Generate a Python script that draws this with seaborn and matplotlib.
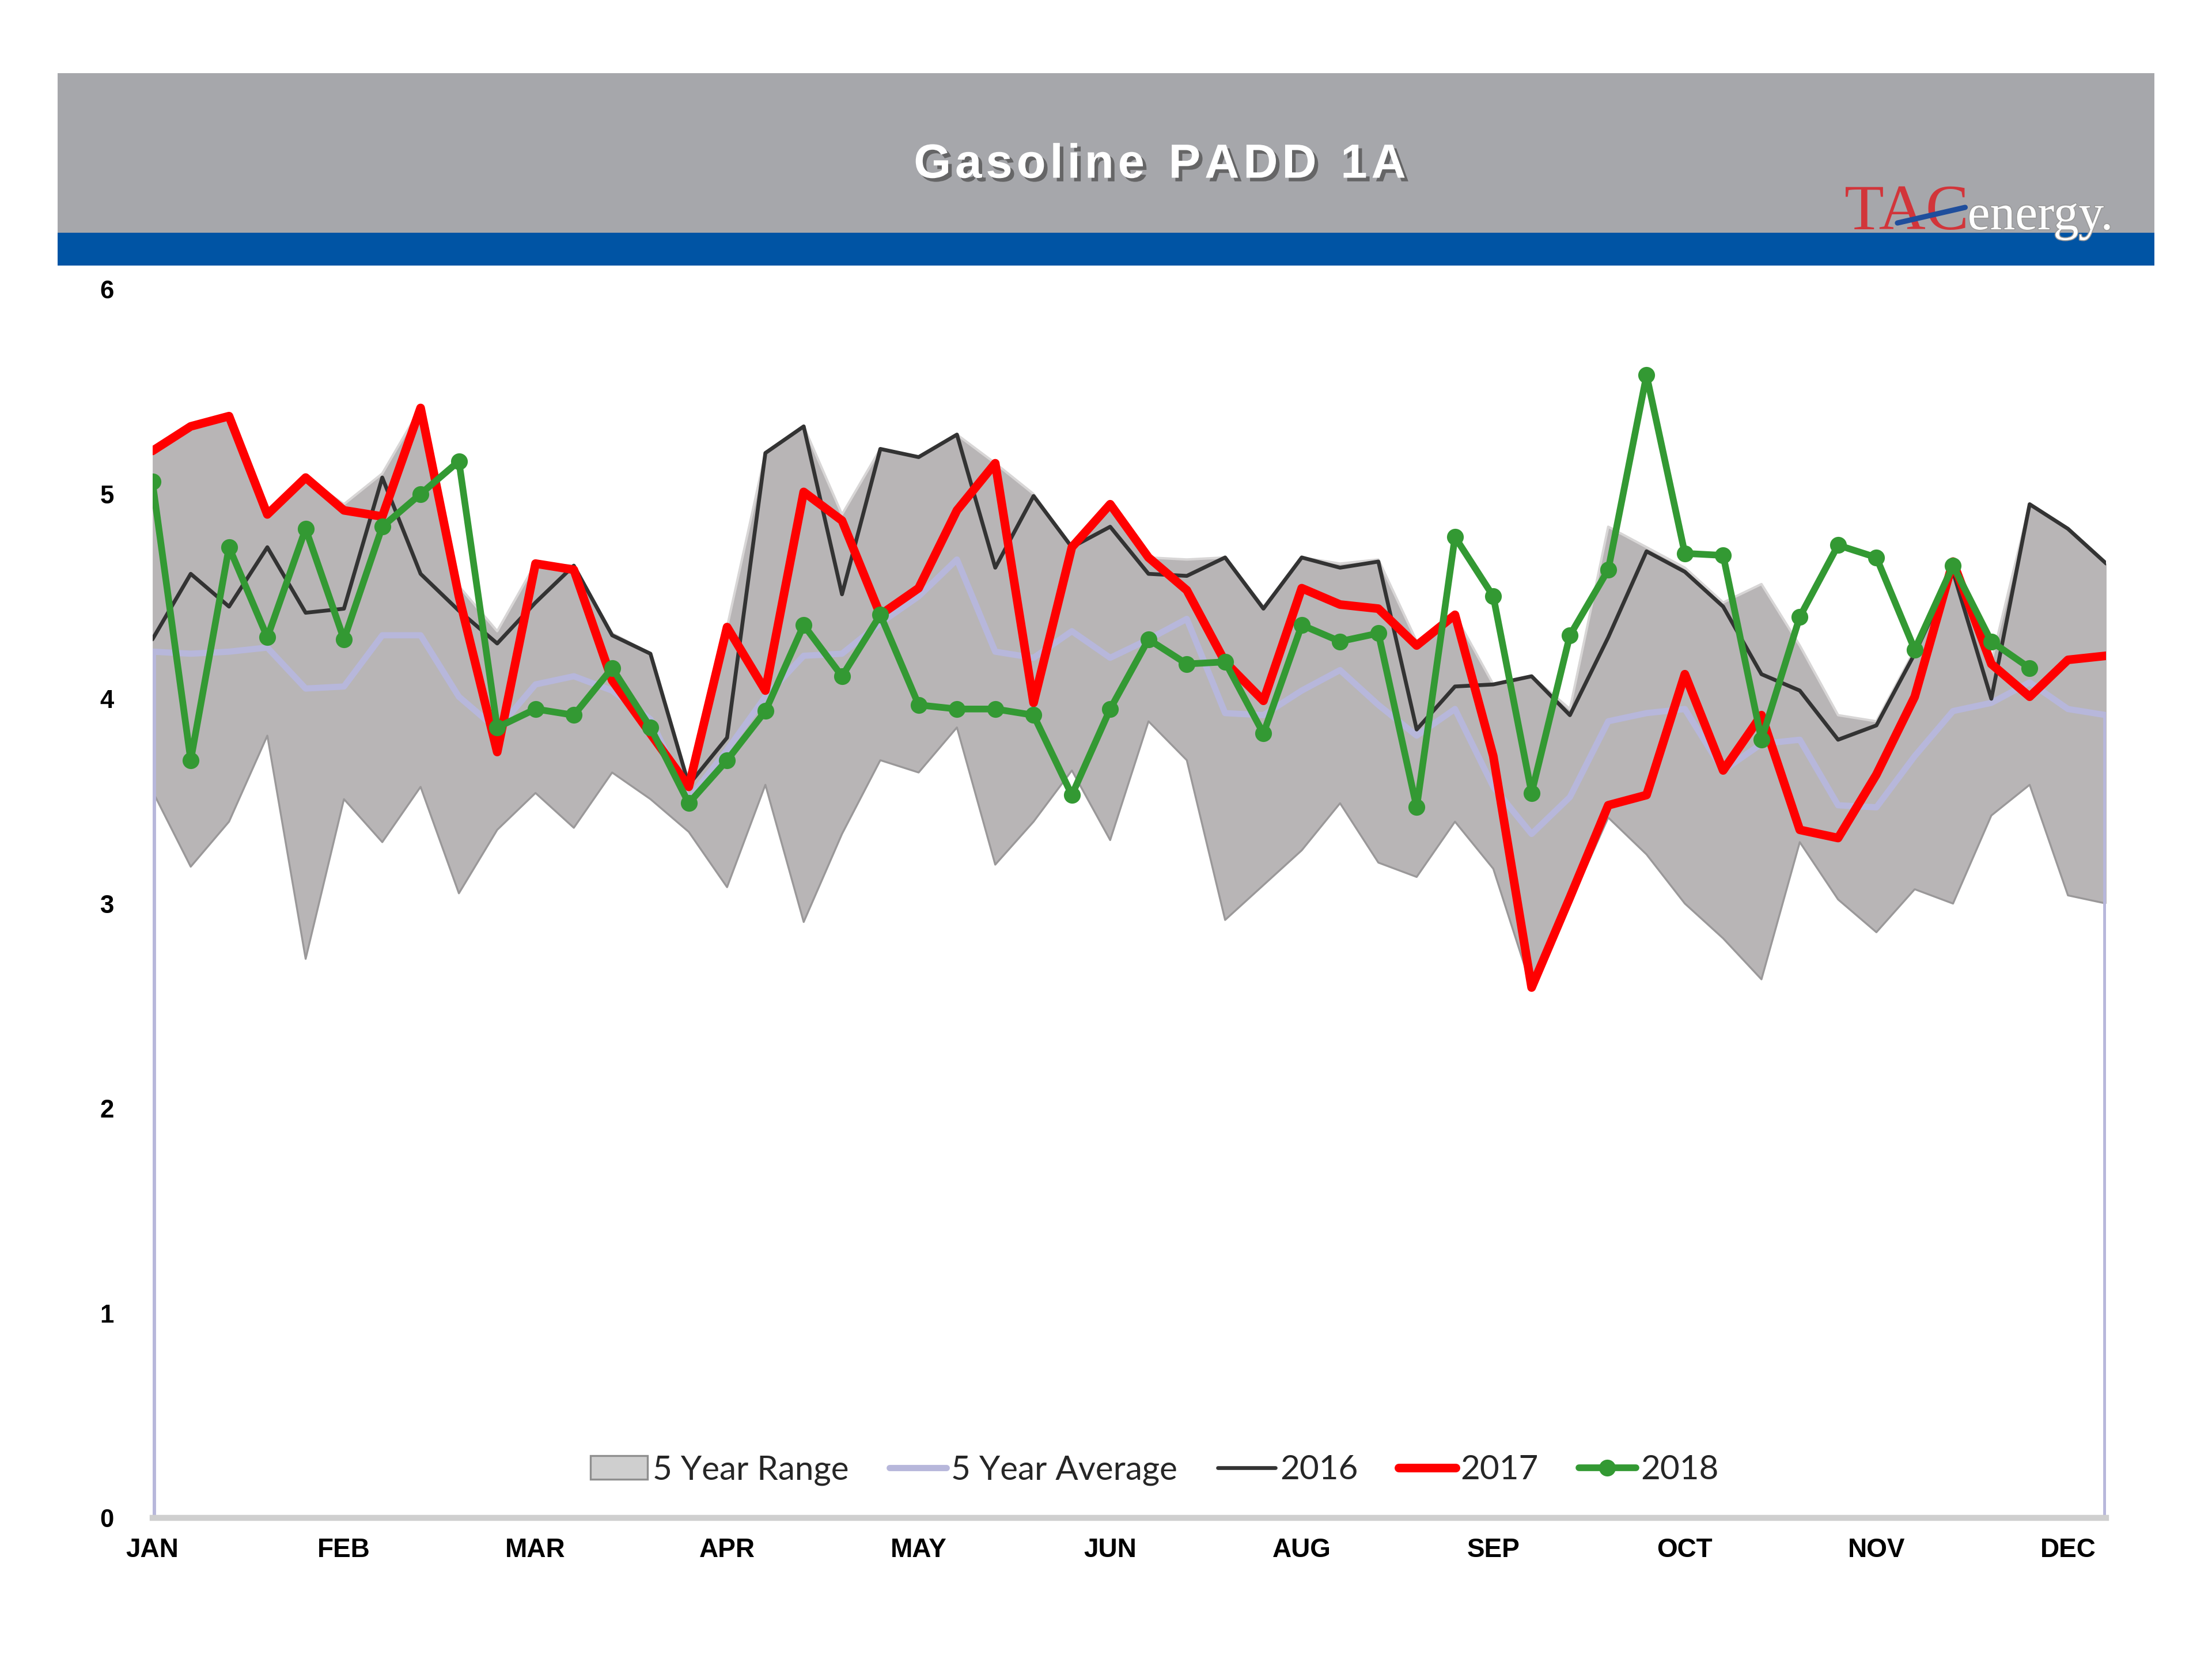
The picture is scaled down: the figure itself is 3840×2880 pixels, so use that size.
import numpy as np
import pandas as pd
import matplotlib
matplotlib.use("Agg")
import matplotlib.pyplot as plt
import matplotlib.patheffects as pe
from matplotlib.patches import Rectangle, Patch
from matplotlib.lines import Line2D
import seaborn as sns

# ---------------- data ----------------
weeks = list(range(52))
month_ticks = [0, 5, 10, 15, 20, 25, 30, 35, 40, 45, 50]
month_labels = ["JAN", "FEB", "MAR", "APR", "MAY", "JUN", "AUG", "SEP", "OCT", "NOV", "DEC"]

range_low = [3.55, 3.18, 3.40, 3.82, 2.73, 3.51, 3.30, 3.57, 3.05, 3.36,
             3.54, 3.37, 3.64, 3.51, 3.35, 3.08, 3.58, 2.91, 3.34, 3.70,
             3.64, 3.86, 3.19, 3.40, 3.65, 3.31, 3.89, 3.70, 2.92, 3.09,
             3.26, 3.49, 3.20, 3.13, 3.40, 3.17, 2.59, 3.00, 3.42, 3.24,
             3.00, 2.83, 2.63, 3.30, 3.02, 2.86, 3.07, 3.00, 3.43, 3.58,
             3.04, 3.00]
range_high = [5.21, 5.33, 5.38, 4.90, 5.08, 4.95, 5.10, 5.42, 4.55, 4.33,
              4.66, 4.65, 4.32, 4.22, 3.58, 4.35, 5.20, 5.33, 4.90, 5.22,
              5.18, 5.29, 5.15, 5.00, 4.74, 4.95, 4.69, 4.68, 4.69, 4.45,
              4.69, 4.66, 4.68, 4.28, 4.41, 4.07, 4.11, 3.95, 4.84, 4.74,
              4.64, 4.47, 4.56, 4.26, 3.92, 3.89, 4.24, 4.68, 4.18, 4.95,
              4.83, 4.66]
avg_5yr = [4.23, 4.22, 4.23, 4.25, 4.05, 4.06, 4.31, 4.31, 4.01, 3.85,
           4.07, 4.11, 4.04, 3.90, 3.51, 3.75, 4.01, 4.21, 4.22, 4.37,
           4.50, 4.68, 4.23, 4.20, 4.33, 4.20, 4.29, 4.39, 3.93, 3.92,
           4.04, 4.14, 3.97, 3.82, 3.95, 3.57, 3.34, 3.52, 3.89, 3.93,
           3.95, 3.65, 3.78, 3.80, 3.48, 3.47, 3.72, 3.94, 3.98, 4.08,
           3.95, 3.92]
y2016 = [4.29, 4.61, 4.45, 4.74, 4.42, 4.44, 5.08, 4.61, 4.43, 4.27,
         4.47, 4.65, 4.31, 4.22, 3.58, 3.81, 5.20, 5.33, 4.51, 5.22,
         5.18, 5.29, 4.64, 4.99, 4.74, 4.84, 4.61, 4.60, 4.69, 4.44,
         4.69, 4.64, 4.67, 3.85, 4.06, 4.07, 4.11, 3.92, 4.30, 4.72,
         4.62, 4.45, 4.12, 4.04, 3.80, 3.87, 4.22, 4.62, 4.00, 4.95,
         4.83, 4.66]
y2017 = [5.21, 5.33, 5.38, 4.90, 5.08, 4.92, 4.89, 5.42, 4.50, 3.74,
         4.66, 4.63, 4.09, 3.83, 3.57, 4.35, 4.04, 5.01, 4.87, 4.41,
         4.54, 4.92, 5.15, 3.98, 4.74, 4.95, 4.69, 4.53, 4.18, 3.99,
         4.54, 4.46, 4.44, 4.26, 4.41, 3.72, 2.59, 3.03, 3.48, 3.53,
         4.12, 3.65, 3.92, 3.36, 3.32, 3.63, 4.01, 4.67, 4.17, 4.01,
         4.19, 4.21]
weeks_2018 = list(range(50))
y2018 = [5.06, 3.70, 4.74, 4.30, 4.83, 4.29, 4.84, 5.00, 5.16, 3.86,
         3.95, 3.92, 4.15, 3.86, 3.49, 3.70, 3.94, 4.36, 4.11, 4.41,
         3.97, 3.95, 3.95, 3.92, 3.53, 3.95, 4.29, 4.17, 4.18, 3.83,
         4.36, 4.28, 4.32, 3.47, 4.79, 4.50, 3.54, 4.31, 4.63, 5.58,
         4.71, 4.70, 3.80, 4.40, 4.75, 4.69, 4.24, 4.65, 4.28, 4.15]

title = "Gasoline PADD 1A"
legend_labels = ["5 Year Range", "5 Year Average", "2016", "2017", "2018"]

# ---------------- style ----------------
sns.set_theme(style="white")
plt.rcParams["font.family"] = ["Liberation Sans", "DejaVu Sans"]

C_RANGE = "#b8b5b6"
C_RANGE_EDGE = "#9a9899"
C_AVG = "#b7b7db"
C_2016 = "#333333"
C_2017 = "#ff0000"
C_2018 = "#339933"

fig = plt.figure(figsize=(12.8, 9.6), dpi=300)
fig.patch.set_facecolor("white")

# header bands
fig.patches.append(Rectangle((0.0261, 0.8597), 0.9478, 0.0961, transform=fig.transFigure,
                             facecolor="#a6a7ab", edgecolor="none", zorder=0))
fig.patches.append(Rectangle((0.0261, 0.8401), 0.9478, 0.0196, transform=fig.transFigure,
                             facecolor="#0054a4", edgecolor="none", zorder=0))
spaced_title = "\u200a".join(list(title)).replace("\u200a \u200a", "\u2002")
fig.text(0.5245, 0.9005, spaced_title, ha="center", va="center", color="white",
         fontsize=20, fontweight="bold", family=["Liberation Sans", "DejaVu Sans"],
         path_effects=[pe.withSimplePatchShadow(offset=(1.5, -1.5), shadow_rgbFace="#555555", alpha=0.8)])
# logo
fig.text(0.8902, 0.8618, "TAC", ha="right", va="baseline", color="#d2353a",
         fontsize=27, family=["Liberation Serif", "DejaVu Serif"], zorder=3)
fig.text(0.8895, 0.8618, "energy.", ha="left", va="baseline", color="white",
         fontsize=21, family=["Liberation Serif", "DejaVu Serif"], zorder=3,
         path_effects=[pe.withStroke(linewidth=0.8, foreground="#9a9a9a")])
fig.add_artist(Line2D([0.8578, 0.8884], [0.8656, 0.8750], transform=fig.transFigure,
                      color="#1f4e9c", lw=2.2, zorder=4))

ax = fig.add_axes([0.0689, 0.0850, 0.8833, 0.7407])
ax.set_facecolor("white")

# range area
ax.fill_between(weeks, range_low, range_high, color=C_RANGE, linewidth=0, zorder=1)
ax.plot(weeks, range_low, color=C_RANGE_EDGE, lw=0.8, zorder=1.1)
ax.plot(weeks, range_high, color="#d8d6d6", lw=1.0, zorder=1.1)

# average with edge drops
sns.lineplot(x=weeks, y=avg_5yr, ax=ax, color=C_AVG, linewidth=2.6, zorder=2)
ax.vlines([weeks[0], weeks[-1]], 0, [avg_5yr[0], avg_5yr[-1]], color=C_AVG, lw=2.6, zorder=2)

sns.lineplot(x=weeks, y=y2016, ax=ax, color=C_2016, linewidth=1.6, zorder=3)
sns.lineplot(x=weeks, y=y2017, ax=ax, color=C_2017, linewidth=3.6, zorder=4)
sns.lineplot(x=weeks_2018, y=y2018, ax=ax, color=C_2018, linewidth=2.8, zorder=5,
             marker="o", markersize=7, markeredgewidth=0)

ax.set_xlim(0, 51)
ax.set_ylim(0, 6)
ax.set_yticks(range(0, 7))
ax.set_yticklabels([str(v) for v in range(0, 7)], fontweight="bold", fontsize=10.5)
ax.set_xticks(month_ticks)
ax.set_xticklabels(month_labels, fontweight="bold", fontsize=11)
ax.tick_params(axis="y", length=0, pad=16, colors="black")
ax.tick_params(axis="x", length=0, pad=8, colors="black")
ax.set_xlabel("")
ax.set_ylabel("")
for s in ["top", "right", "left"]:
    ax.spines[s].set_visible(False)
ax.spines["bottom"].set_color("#cfcfcf")
ax.spines["bottom"].set_linewidth(2.5)
ax.grid(False)

handles = [
    Patch(facecolor="#cfcfcf", edgecolor="#8f8f8f", linewidth=0.8),
    Line2D([], [], color=C_AVG, lw=2.6),
    Line2D([], [], color=C_2016, lw=1.6),
    Line2D([], [], color=C_2017, lw=3.6),
    Line2D([], [], color=C_2018, lw=2.8, marker="o", markersize=7, markeredgewidth=0),
]
leg = ax.legend(handles, legend_labels, loc="center", bbox_to_anchor=(0.513, 0.039),
                ncol=5, frameon=False, handlelength=1.7, handletextpad=0.15,
                columnspacing=1.2, prop={"family": ["Lato", "DejaVu Sans"], "size": 14})

fig.savefig("out.png", dpi=300)
